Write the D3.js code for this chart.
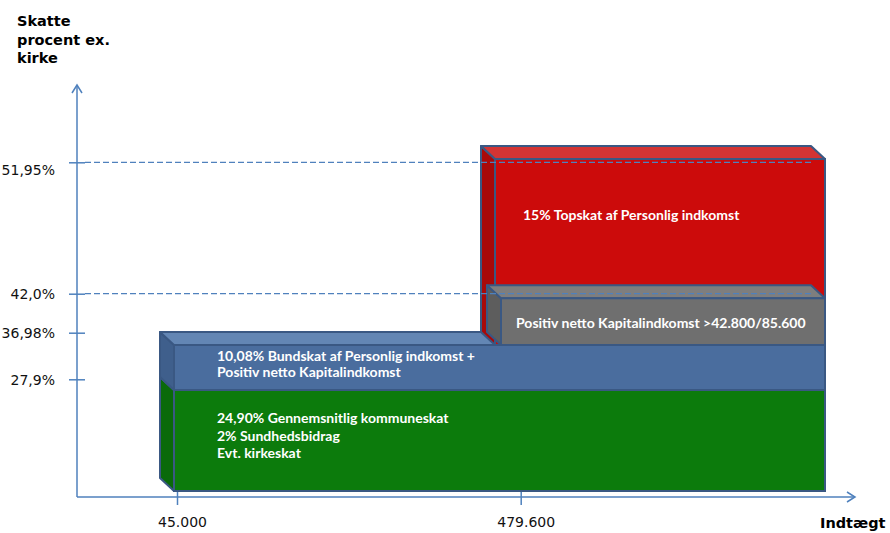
<!DOCTYPE html>
<html>
<head>
<meta charset="utf-8">
<script src="https://cdn.jsdelivr.net/npm/d3@7"></script>
<style>
  html, body { margin: 0; padding: 0; background: #fff; }
  svg { display: block; }
</style>
</head>
<body>
<svg id="chart" width="890" height="533"></svg>
<script>
// Tax levels (percent) and the income thresholds where each bracket starts
const levelValues = [0, 27.9, 36.98, 42.0, 51.95];
const yTickValues = [27.9, 36.98, 42.0, 51.95];
const yTickLabels = ["27,9%", "36,98%", "42,0%", "51,95%"];
const guideValues = [42.0, 51.95];
const xTickValues = [45000, 479600];
const xTickLabels = ["45.000", "479.600"];

// Tax blocks, bottom to top in drawing order
const layerKeys = ["kommune", "bund", "top", "kapital"];
const layerFrom = [0, 27.9, 36.98, 36.98];
const layerTo = [27.9, 36.98, 51.95, 42.0];
const layerIncomeFrom = [45000, 45000, 479600, 479600];
const layerText = [
  ["24,90% Gennemsnitlig kommuneskat", "2% Sundhedsbidrag", "Evt. kirkeskat"],
  ["10,08% Bundskat af Personlig indkomst +", "Positiv netto Kapitalindkomst"],
  ["15% Topskat af Personlig indkomst"],
  ["Positiv netto Kapitalindkomst >42.800/85.600"]
];

const yTitle = ["Skatte", "procent ex.", "kirke"];
const xTitle = "Indtægt";

// Appearance of each block
const layerStyle = {
  kommune: { front: "#0c7b0c", top: "#2a8c2a", side: "#0a6a0a", inset: 0, textDx: 43, textDy: 33, lh: 17.5 },
  bund:    { front: "#4a6d9e", top: "#6386b4", side: "#3f5f8c", inset: 0, textDx: 43, textDy: 15.7, lh: 16 },
  top:     { front: "#cc0b0b", top: "#d33434", side: "#a90909", inset: 0, textDx: 28, textDy: 61, lh: 16 },
  kapital: { front: "#6f6f6f", top: "#7e7e7e", side: "#5d5d5d", inset: 6, textDx: 15, textDy: 30, lh: 16 }
};

const svg = d3.select("#chart");
const axisColor = "#4f81bd";
const edgeColor = "#3a5883";
const depthX = -14, depthY = -13;
const plotRight = 825;

// Axis positions for the tick marks and guide lines
const yAxis = d3.scaleLinear().domain(levelValues).range([497, 379.3, 332.7, 293.7, 162.3]);
const xAxis = d3.scaleLinear().domain(xTickValues).range([177, 520.7]);
// Front faces of the stepped blocks (schematic, drawn in front of the axis levels)
const yFace = d3.scaleLinear().domain(levelValues).range([491, 390, 345, 298.3, 159]);
const xFace = d3.scaleLinear().domain(xTickValues).range([174, 495]);

const blocks = layerKeys.map((k, i) => ({
  key: k, from: layerFrom[i], to: layerTo[i], income: layerIncomeFrom[i], text: layerText[i]
}));

const gBlocks = svg.append("g");
blocks.forEach(b => {
  const st = layerStyle[b.key];
  const x0 = xFace(b.income) + st.inset, x1 = plotRight;
  const y0 = yFace(b.to), y1 = yFace(b.from);
  const g = gBlocks.append("g");
  const pts = a => a.map(p => p.join(",")).join(" ");
  // left side face
  g.append("polygon")
    .attr("points", pts([[x0 + depthX, y0 + depthY], [x0, y0], [x0, y1], [x0 + depthX, y1 + depthY]]))
    .attr("fill", st.side).attr("stroke", edgeColor).attr("stroke-width", 2).attr("stroke-linejoin", "round");
  // top face
  g.append("polygon")
    .attr("points", pts([[x0 + depthX, y0 + depthY], [x1 + depthX, y0 + depthY], [x1, y0], [x0, y0]]))
    .attr("fill", st.top).attr("stroke", edgeColor).attr("stroke-width", 2).attr("stroke-linejoin", "round");
  // front face
  g.append("rect")
    .attr("x", x0).attr("y", y0).attr("width", x1 - x0).attr("height", y1 - y0)
    .attr("fill", st.front).attr("stroke", edgeColor).attr("stroke-width", 2);
  const t = g.append("text")
    .attr("x", x0 + st.textDx).attr("y", y0 + st.textDy)
    .attr("fill", "#ffffff")
    .attr("font-family", "Lato, 'Open Sans', sans-serif")
    .attr("font-weight", "bold")
    .attr("font-size", 14);
  b.text.forEach((line, j) => {
    t.append("tspan").attr("x", x0 + st.textDx).attr("dy", j === 0 ? 0 : st.lh).text(line);
  });
});

// Dashed guide lines for the marginal rates
svg.append("g").selectAll("line").data(guideValues).join("line")
  .attr("x1", 85).attr("x2", plotRight + depthX)
  .attr("y1", d => yAxis(d)).attr("y2", d => yAxis(d))
  .attr("stroke", axisColor).attr("stroke-width", 1.3).attr("stroke-dasharray", "6,3");

// Y axis with crossing ticks
const gy = svg.append("g").attr("transform", "translate(77,0)")
  .call(d3.axisLeft(yAxis).tickValues(yTickValues).tickFormat((d, i) => yTickLabels[i]).tickSize(8).tickPadding(14));
gy.select(".domain").remove();
gy.selectAll(".tick line").attr("x1", -8).attr("x2", 8).attr("stroke", axisColor).attr("stroke-width", 1.5);
gy.selectAll(".tick text")
  .attr("font-family", "'DejaVu Sans', Verdana, sans-serif").attr("font-size", 14).attr("fill", "#111")
  .attr("dy", (d, i) => yTickLabels[i] === "51,95%" ? "0.85em" : "0.34em");

// X axis
const gx = svg.append("g").attr("transform", "translate(0,497)")
  .call(d3.axisBottom(xAxis).tickValues(xTickValues).tickFormat((d, i) => xTickLabels[i]).tickSize(8));
gx.select(".domain").remove();
gx.selectAll(".tick line").attr("y1", -5).attr("y2", 8).attr("stroke", axisColor).attr("stroke-width", 1.5);
gx.selectAll(".tick text")
  .attr("font-family", "'DejaVu Sans', Verdana, sans-serif").attr("font-size", 14).attr("fill", "#111")
  .attr("x", 5).attr("y", 30).attr("dy", 0);

// Axis lines with open arrowheads
const axisG = svg.append("g").attr("stroke", axisColor).attr("stroke-width", 1.5).attr("fill", "none");
axisG.append("line").attr("x1", 77).attr("y1", 497).attr("x2", 77).attr("y2", 85);
axisG.append("polyline").attr("points", "72,93 77,85 82,93");
axisG.append("line").attr("x1", 77).attr("y1", 497).attr("x2", 855).attr("y2", 497);
axisG.append("polyline").attr("points", "847,492 855,497 847,502");

// Axis titles
const yt = svg.append("text").attr("x", 17).attr("y", 26)
  .attr("font-family", "'DejaVu Sans', Verdana, sans-serif").attr("font-weight", "bold")
  .attr("font-size", 14.5).attr("fill", "#000");
yTitle.forEach((line, j) => yt.append("tspan").attr("x", 17).attr("dy", j === 0 ? 0 : 18.5).text(line));

svg.append("text").attr("x", 820).attr("y", 528)
  .attr("font-family", "'DejaVu Sans', Verdana, sans-serif").attr("font-weight", "bold")
  .attr("font-size", 14.5).attr("fill", "#000").text(xTitle);
</script>
</body>
</html>
